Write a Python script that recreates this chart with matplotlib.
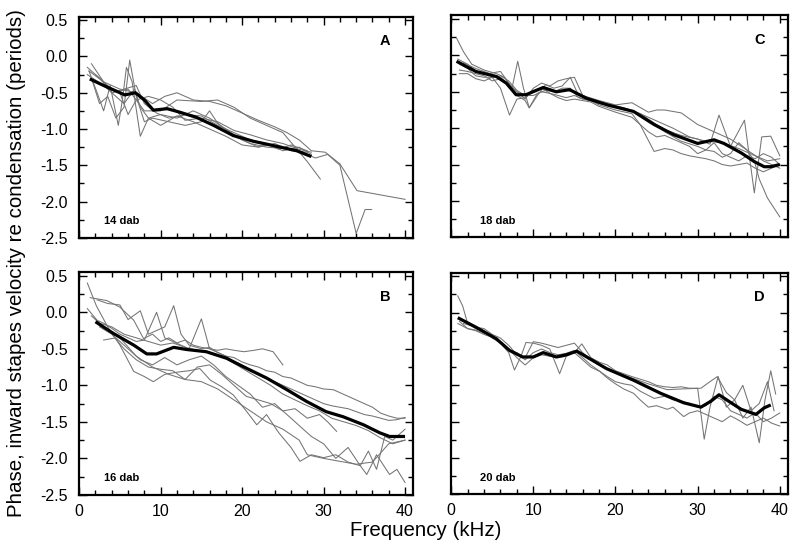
import numpy as np
import matplotlib
matplotlib.use("Agg")
import matplotlib.pyplot as plt
from matplotlib.ticker import MultipleLocator

plt.rcParams["font.family"] = ["Liberation Sans", "DejaVu Sans"]
plt.rcParams["axes.unicode_minus"] = False

# ---- panel A (14 dab) ----
a_mean_f = [1.3, 3.0, 5.6, 6.9, 8.0, 9.1, 10.8, 12.4, 14.4, 16.5, 18.9, 21.4, 24.3, 26.7, 28.5]
a_mean_v = [-0.31, -0.40, -0.53, -0.50, -0.60, -0.74, -0.72, -0.77, -0.84, -0.95, -1.09, -1.17, -1.24, -1.30, -1.38]
a_traces = [
    ([1.2, 3, 5, 7, 9, 10.5, 12, 14, 16, 18, 20, 22, 24, 25.5, 27, 28.5, 30.2, 32, 34.1, 40],
     [-0.2, -0.35, -0.45, -0.5, -0.65, -0.55, -0.5, -0.6, -0.62, -0.68, -0.78, -0.88, -0.97, -1.05, -1.15, -1.3, -1.32, -1.48, -1.85, -1.97]),
    ([1.0, 2.5, 4, 6, 8, 10, 12, 15, 17, 19, 21, 23, 25, 26.5, 28, 29.6],
     [-0.15, -0.3, -0.5, -0.45, -0.75, -0.75, -0.6, -0.62, -0.6, -0.7, -0.85, -0.95, -1.05, -1.25, -1.45, -1.69]),
    ([1.5, 2.5, 3.5, 4.5, 5.5, 6.2, 7, 8, 9, 11, 13, 15, 16, 17, 19, 21, 23, 25, 27, 29, 30.5, 32, 34, 35.1, 35.9],
     [-0.3, -0.65, -0.55, -0.85, -0.7, -0.05, -0.55, -0.9, -0.85, -0.9, -0.95, -0.9, -0.75, -0.92, -1.1, -1.2, -1.25, -1.27, -1.3, -1.4, -1.35, -1.5, -2.44, -2.11, -2.11]),
    ([1.2, 2.2, 3, 3.8, 4.8, 5.3, 5.8, 6.5, 7.5, 8.5, 10, 12, 14, 16, 18, 20, 22, 24, 26, 28],
     [-0.2, -0.5, -0.75, -0.4, -0.95, -0.6, -0.15, -0.35, -1.1, -0.85, -0.95, -0.82, -0.9, -1.0, -1.1, -1.22, -1.25, -1.2, -1.3, -1.32]),
    ([1.0, 3, 4.5, 5.5, 6.8, 7.5, 8.5, 10, 12, 14, 16, 18, 20, 22, 23, 25, 27, 28.5],
     [-0.25, -0.4, -0.55, -0.65, -0.45, -0.7, -0.85, -0.8, -0.85, -0.75, -0.85, -1.0, -1.15, -1.25, -1.2, -1.3, -1.25, -1.35]),
    ([1.5, 3, 4, 5.5, 7, 8, 9.5, 11, 13, 15, 17, 19, 21, 23, 24.5, 26, 28],
     [-0.1, -0.35, -0.5, -0.45, -0.4, -0.65, -0.78, -0.85, -0.8, -0.82, -0.95, -1.05, -1.15, -1.2, -1.28, -1.22, -1.3]),
    ([2, 4, 5, 6, 7, 8.5, 10, 11.5, 13, 15, 17, 19, 21, 23, 25, 27, 28.5],
     [-0.25, -0.45, -0.5, -0.8, -0.6, -0.55, -0.6, -0.7, -0.88, -0.85, -0.9, -1.02, -1.08, -1.15, -1.2, -1.28, -1.32]),
]

# ---- panel B (16 dab) ----
b_mean_f = [2.0, 4.2, 6.7, 8.3, 9.5, 11.6, 13.2, 15.6, 18.1, 20.6, 23, 25.5, 27.9, 30.3, 32.4, 34.9, 36.9, 38.1, 40]
b_mean_v = [-0.13, -0.29, -0.45, -0.57, -0.57, -0.48, -0.51, -0.54, -0.63, -0.77, -0.90, -1.06, -1.22, -1.36, -1.43, -1.54, -1.65, -1.70, -1.70]
b_traces = [
    ([1.0, 2.1, 3.5, 5, 6.7, 8, 9.1, 10.5, 12, 13.5, 14.8, 16.1, 17.5, 18.9, 20.5, 21.8, 23, 24.5, 26, 27.1, 28.5, 30, 31.5, 33, 34.5, 35.3, 36.5, 38.1, 39, 40],
     [0.40, 0.09, -0.2, -0.45, -0.81, -0.88, -0.95, -0.85, -0.82, -0.8, -0.77, -0.93, -1.02, -1.13, -1.35, -1.54, -1.4, -1.65, -1.85, -2.04, -1.95, -1.99, -1.95, -2.05, -2.1, -2.22, -1.95, -2.22, -2.15, -2.33]),
    ([1.35, 3.4, 5, 6.7, 7.9, 9, 10, 11, 12, 13, 14, 15, 16, 17, 18, 19, 20.2, 21.5, 22.5, 23.8, 25],
     [0.20, 0.16, 0.07, -0.11, -0.36, -0.3, -0.4, -0.35, -0.42, -0.38, -0.45, -0.48, -0.5, -0.52, -0.5, -0.52, -0.54, -0.52, -0.5, -0.54, -0.72]),
    ([2.2, 3.5, 5, 6, 7.5, 8.5, 9.5, 10.5, 11.6, 12.5, 13.5, 15, 16, 17, 18, 19, 20, 21, 22, 23, 24, 25, 26, 27, 28, 29, 30, 31.2, 32, 33, 34, 35, 36, 37, 38, 39, 40],
     [0.17, 0.12, 0.1, -0.1, 0.02, -0.3, -0.25, -0.2, 0.09, -0.3, -0.45, -0.5, -0.48, -0.55, -0.6, -0.62, -0.68, -0.72, -0.75, -0.8, -0.82, -0.88, -0.9, -0.95, -1.0, -1.02, -1.05, -1.06, -1.1, -1.15, -1.2, -1.25, -1.3, -1.38, -1.42, -1.45, -1.45]),
    ([2, 3, 4, 5, 6, 7, 8, 9.5, 10.5, 11.5, 12.5, 13.5, 15, 16, 17, 18, 19, 20, 21, 22, 23, 24, 25, 26, 27, 28, 29, 30, 31, 32, 33, 34, 35, 36, 37, 38, 39, 40],
     [-0.1, -0.15, -0.22, -0.3, -0.35, -0.4, -0.38, 0.0, -0.35, -0.4, -0.45, -0.5, -0.09, -0.5, -0.55, -0.6, -0.68, -0.75, -0.8, -0.85, -0.9, -0.95, -1.0, -1.05, -1.1, -1.15, -1.2, -1.25, -1.28, -1.3, -1.32, -1.36, -1.4, -1.42, -1.45, -1.48, -1.47, -1.44]),
    ([2.5, 4, 5.5, 7, 8.5, 10, 11.5, 13, 14.5, 16, 17.5, 19, 20.5, 22, 23.5, 25, 26.5, 28, 29.5, 30.5, 31.6],
     [-0.2, -0.3, -0.5, -0.65, -0.75, -0.78, -0.8, -0.92, -0.75, -0.72, -0.85, -1.0, -1.15, -1.2, -1.25, -1.35, -1.32, -1.45, -1.4, -1.5, -1.63]),
    ([3, 4.5, 6, 7.5, 9, 10.5, 12, 13.5, 15, 16.5, 18, 19.5, 21, 22.5, 24, 25.5, 27, 28.5, 30, 31.5, 33, 34.5, 35.5, 36.5, 37.5, 38.5, 40],
     [-0.38, -0.35, -0.5, -0.65, -0.72, -0.62, -0.72, -0.65, -0.6, -0.72, -0.88, -1.0, -1.12, -1.3, -1.25, -1.4, -1.55, -1.7, -1.8, -2.0, -1.85, -2.1, -1.9, -2.15, -1.7, -1.75, -1.6]),
    ([1.5, 3, 5, 7, 9, 11, 13, 15, 17, 19, 21, 23, 25, 27, 28, 30, 32, 34, 36, 38, 40],
     [-0.05, -0.2, -0.35, -0.6, -0.75, -0.85, -0.92, -0.95, -1.05, -1.2, -1.35, -1.5, -1.6, -1.75, -1.95, -2.0, -2.04, -2.08, -2.05, -1.8, -1.75]),
    ([1, 2.5, 4, 5.5, 7, 8.5, 10, 11.5, 13, 14.5, 16, 17.5, 19, 20.5, 22, 23.5, 25, 26.5, 28, 29.5, 31, 32.5, 34, 35.5, 37, 38.5, 40],
     [0.05, -0.15, -0.2, -0.3, -0.35, -0.4, -0.45, -0.42, -0.48, -0.52, -0.55, -0.6, -0.7, -0.8, -0.9, -1.0, -1.12, -1.2, -1.28, -1.35, -1.45, -1.5, -1.55, -1.62, -1.72, -1.8, -1.75]),
]

# ---- panel C (18 dab) ----
c_mean_f = [0.65, 3.0, 5.5, 6.7, 7.9, 9.1, 11.2, 12.8, 14.4, 16.5, 19, 22.2, 24.7, 27.1, 30, 32, 33.2, 35.3, 36.9, 38.1, 38.9, 40]
c_mean_v = [-0.08, -0.22, -0.29, -0.38, -0.54, -0.54, -0.44, -0.50, -0.47, -0.59, -0.68, -0.77, -0.95, -1.09, -1.21, -1.16, -1.21, -1.34, -1.46, -1.53, -1.53, -1.50]
c_traces = [
    ([0.65, 1.5, 2.5, 4, 5.5, 6.5, 7.4, 8.1, 8.8, 9.5, 10.5, 11.5, 12.5, 13.5, 14.5, 15.5, 17, 19, 21, 23, 25, 27, 29, 31, 33, 35, 37, 38.5, 40],
     [0.24, 0.05, -0.12, -0.2, -0.25, -0.3, -0.45, -0.08, -0.45, -0.72, -0.55, -0.4, -0.45, -0.42, -0.3, -0.55, -0.62, -0.68, -0.72, -0.8, -0.9, -1.0, -1.12, -1.18, -1.2, -1.28, -1.38, -1.45, -1.42]),
    ([0.8, 2, 3, 4.5, 6, 7, 8, 9, 10, 11, 12, 13, 14, 15, 16, 18, 20, 22, 24, 25, 26, 28, 30, 32, 34, 36, 38, 40],
     [-0.05, -0.12, -0.22, -0.25, -0.22, -0.38, -0.5, -0.6, -0.45, -0.38, -0.42, -0.35, -0.32, -0.3, -0.55, -0.62, -0.68, -0.65, -0.78, -0.75, -0.75, -0.79, -0.95, -1.05, -1.15, -1.3, -1.45, -1.55]),
    ([1, 2, 3, 4, 5, 6, 7.1, 8, 9, 10, 11, 12, 13, 14, 15, 16, 17, 18, 20, 22, 23, 24.7, 26, 27, 28, 29, 30, 31, 32, 33, 34, 35, 36, 37, 38, 39, 40],
     [-0.12, -0.18, -0.28, -0.3, -0.3, -0.45, -0.82, -0.6, -0.58, -0.5, -0.45, -0.52, -0.55, -0.58, -0.55, -0.6, -0.62, -0.68, -0.75, -0.8, -0.95, -1.32, -1.28, -1.3, -1.35, -1.38, -1.4, -1.42, -1.45, -1.5, -1.52, -1.5, -1.48, -1.55, -1.6, -1.55, -1.5]),
    ([1, 2, 3, 4, 5, 6, 7, 8, 9, 9.5, 10.5, 11.5, 12.5, 13.5, 14.5, 15.5, 17, 19, 21, 23, 25, 26, 28, 30, 31.5, 32.6, 34, 35.7, 36.9, 37.8, 38.9, 40],
     [-0.2, -0.22, -0.25, -0.28, -0.35, -0.32, -0.4, -0.55, -0.62, -0.72, -0.52, -0.48, -0.5, -0.45, -0.45, -0.58, -0.62, -0.66, -0.72, -0.8, -0.95, -1.02, -1.1, -1.15, -1.22, -0.82, -1.25, -0.89, -1.89, -1.12, -1.11, -1.38]),
    ([1, 2, 3, 4, 5, 6, 7, 8, 9, 10, 11, 12, 13, 14, 15, 16, 17, 18, 20, 22, 23, 24, 25, 26, 27, 28, 29, 30, 31, 32, 33, 34, 35, 36, 36.9, 37.5, 38.5, 40],
     [-0.25, -0.25, -0.32, -0.35, -0.3, -0.28, -0.35, -0.48, -0.55, -0.55, -0.5, -0.52, -0.58, -0.62, -0.6, -0.62, -0.64, -0.7, -0.78, -0.85, -0.95, -1.05, -1.12, -1.1, -1.15, -1.2, -1.25, -1.35, -1.3, -1.32, -1.4, -1.35, -1.2, -1.3, -1.45, -1.7, -1.96, -2.22]),
    ([1.5, 3, 4.5, 6, 7, 8, 9, 10, 11, 12, 13, 14, 15, 16, 18, 20, 22, 24, 26, 28, 30, 31, 32, 33, 34, 35, 36, 37, 38, 39, 40],
     [-0.1, -0.18, -0.24, -0.3, -0.4, -0.5, -0.55, -0.48, -0.45, -0.47, -0.5, -0.48, -0.5, -0.56, -0.66, -0.7, -0.76, -0.9, -1.05, -1.18, -1.25, -1.3, -1.2, -1.35, -1.4, -1.45, -1.38, -1.42, -1.35, -1.4, -1.5]),
]

# ---- panel D (20 dab) ----
d_mean_f = [0.8, 3.0, 5.5, 7.1, 8.7, 10, 11.2, 12.8, 14, 15.3, 16.5, 18.9, 22.2, 25.5, 28.3, 30.4, 31.6, 32.6, 33.8, 35.3, 37.1, 38.1, 38.9]
d_mean_v = [-0.07, -0.20, -0.36, -0.52, -0.61, -0.61, -0.55, -0.61, -0.58, -0.53, -0.61, -0.77, -0.93, -1.11, -1.24, -1.30, -1.22, -1.13, -1.22, -1.33, -1.40, -1.31, -1.27]
d_traces = [
    ([0.8, 1.4, 2, 3, 4, 5, 6, 7, 7.7, 8.5, 9.1, 10, 11, 12, 13.2, 14, 15, 15.9, 17, 18, 19, 20, 22, 24, 25, 26, 27, 28, 29, 30, 30.8, 31.5, 32.5, 33.5, 34.5, 35.5, 36.5, 37.5, 38.2, 38.9, 39.5],
     [0.23, 0.09, -0.15, -0.22, -0.25, -0.35, -0.42, -0.55, -0.79, -0.6, -0.41, -0.42, -0.45, -0.5, -0.84, -0.6, -0.55, -0.43, -0.62, -0.68, -0.72, -0.8, -0.88, -0.95, -1.0, -1.02, -1.03, -1.02, -1.04, -1.04, -1.74, -1.3, -0.88, -1.3, -1.2, -1.45, -1.3, -1.79, -1.2, -0.80, -1.12]),
    ([0.8, 2, 3, 4, 5, 6, 7, 8, 9, 10, 11, 12, 13, 14, 15, 16, 17, 18.1, 19, 20, 21, 22.2, 23, 24, 25, 26.3, 27, 28.3, 29, 30, 31, 32, 33, 34, 35, 36, 37, 38, 39, 40],
     [-0.15, -0.22, -0.25, -0.3, -0.34, -0.4, -0.5, -0.62, -0.72, -0.62, -0.58, -0.6, -0.62, -0.6, -0.55, -0.65, -0.75, -0.81, -0.9, -0.98, -1.05, -1.11, -1.2, -1.3, -1.28, -1.33, -1.3, -1.43, -1.38, -1.35, -1.4, -1.45, -1.5, -1.42, -1.48, -1.55, -1.5, -1.45, -1.52, -1.56]),
    ([1, 2, 3, 4, 5, 6, 7, 8, 9, 10, 11, 12, 13, 14, 15, 16, 17, 18, 19, 20, 21, 22, 23, 24.7, 26, 27, 28, 29, 30, 31, 32, 33, 34, 35, 36, 37, 38, 39, 40],
     [-0.12, -0.22, -0.24, -0.28, -0.32, -0.42, -0.52, -0.55, -0.65, -0.55, -0.5, -0.55, -0.58, -0.56, -0.52, -0.62, -0.72, -0.8, -0.88, -0.95, -0.98, -1.0, -1.08, -1.18, -1.15, -1.2, -1.22, -1.25, -1.3, -1.28, -1.15, -1.2, -1.35, -1.4, -1.45, -1.38, -1.5, -1.45, -1.38]),
    ([1.5, 3, 4, 5, 6, 7, 8, 9, 10, 11, 12, 13, 14, 15, 16, 17, 18, 20, 22, 24, 26.3, 28, 30.4, 31.5, 32.4, 33.5, 34.5, 35.5, 36.5, 37.5, 38.5, 39.3],
     [-0.15, -0.2, -0.22, -0.3, -0.35, -0.45, -0.58, -0.62, -0.4, -0.42, -0.45, -0.48, -0.45, -0.42, -0.55, -0.65, -0.72, -0.82, -0.9, -0.98, -1.06, -1.05, -1.04, -0.95, -0.88, -1.1, -1.2, -1.0, -1.35, -1.25, -0.95, -1.35]),
]

panel_letters = ["A", "B", "C", "D"]
panel_levels = ["14 dab", "16 dab", "18 dab", "20 dab"]
y_tick_labels = ["0.5", "0.0", "-0.5", "-1.0", "-1.5", "-2.0", "-2.5"]
x_tick_labels = ["0", "10", "20", "30", "40"]

fig = plt.figure(figsize=(8.0, 5.53), dpi=100)
positions = {
    "A": [0.099, 0.570, 0.4175, 0.400],
    "B": [0.099, 0.105, 0.4175, 0.403],
    "C": [0.564, 0.571, 0.421, 0.401],
    "D": [0.564, 0.106, 0.421, 0.401],
}
panels = {
    "A": (a_mean_f, a_mean_v, a_traces),
    "B": (b_mean_f, b_mean_v, b_traces),
    "C": (c_mean_f, c_mean_v, c_traces),
    "D": (d_mean_f, d_mean_v, d_traces),
}

for letter, level in zip(panel_letters, panel_levels):
    ax = fig.add_axes(positions[letter])
    mean_f, mean_v, traces = panels[letter]
    for tf, tv in traces:
        ax.plot(tf, tv, color="#747474", linewidth=0.75, zorder=2)
    ax.plot(mean_f, mean_v, color="black", linewidth=2.3, solid_capstyle="butt", zorder=3)

    ax.set_xlim(0, 41)
    ax.set_ylim(-2.5, 0.55)
    ax.xaxis.set_major_locator(MultipleLocator(10))
    ax.xaxis.set_minor_locator(MultipleLocator(2))
    ax.yaxis.set_major_locator(MultipleLocator(0.5))
    ax.yaxis.set_minor_locator(MultipleLocator(0.25))
    ax.tick_params(which="both", direction="in", top=True, right=True, width=1.0, color="black")
    ax.tick_params(which="major", length=6)
    ax.tick_params(which="minor", length=3.5)
    ax.tick_params(axis="both", labelsize=11.5)
    ax.tick_params(axis="x", pad=6.5)
    ax.tick_params(axis="y", pad=8)
    for sp in ax.spines.values():
        sp.set_linewidth(1.6)

    if letter in ("A", "B"):
        ax.set_yticks([0.5, 0.0, -0.5, -1.0, -1.5, -2.0, -2.5])
        ax.set_yticklabels(y_tick_labels)
    else:
        ax.tick_params(axis="y", labelleft=False)
    if letter in ("B", "D"):
        ax.set_xticks([0, 10, 20, 30, 40])
        ax.set_xticklabels(x_tick_labels)
    else:
        ax.tick_params(axis="x", labelbottom=False)

    ax.text(0.915, 0.89, letter, transform=ax.transAxes, ha="center", va="center",
            fontsize=10.5, fontweight="bold")
    ax.text(0.075 if letter in ("A", "B") else 0.086, 0.074, level, transform=ax.transAxes,
            ha="left", va="center", fontsize=8, fontweight="bold")

fig.text(0.021, 0.524, "Phase, inward stapes velocity re condensation (periods)",
         rotation=90, ha="center", va="center", fontsize=14.8)
fig.text(0.5325, 0.040, "Frequency (kHz)", ha="center", va="center", fontsize=14.8)

fig.savefig("out.png", dpi=100)
